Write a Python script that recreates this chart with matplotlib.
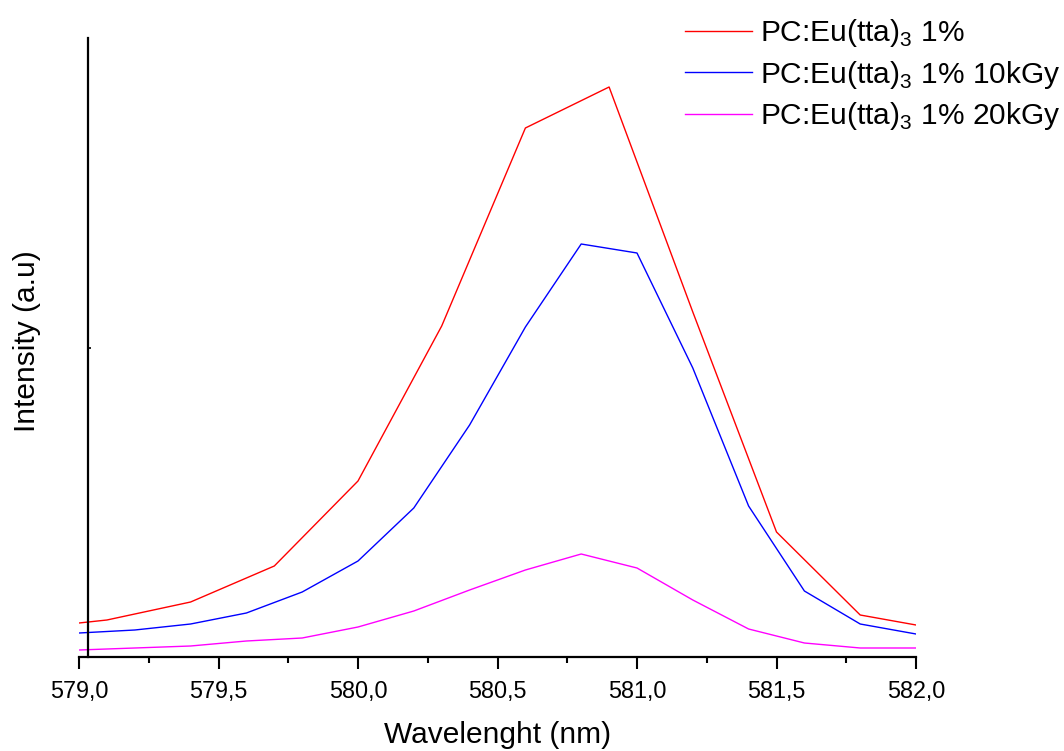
import numpy as np
import matplotlib
matplotlib.use("Agg")
import matplotlib.pyplot as plt
from matplotlib.ticker import MultipleLocator, FuncFormatter

plt.rcParams['font.family'] = ['Liberation Sans', 'DejaVu Sans']
plt.rcParams['mathtext.fontset'] = 'custom'
plt.rcParams['mathtext.rm'] = 'Liberation Sans'

# emission spectra, arbitrary intensity units
wl_red = [579.0, 579.1, 579.4, 579.7, 580.0, 580.3, 580.6, 580.9, 581.2, 581.5, 581.8, 582.0]
int_red = [34, 37, 55, 91, 176, 331, 529, 570, 345, 125, 42, 32]

wl_blue = [579.0, 579.2, 579.4, 579.6, 579.8, 580.0, 580.2, 580.4, 580.6, 580.8,
           581.0, 581.2, 581.4, 581.6, 581.8, 582.0]
int_blue = [24, 27, 33, 44, 65, 96, 149, 232, 330, 413, 404, 289, 151, 66, 33, 23]

wl_mag = [579.0, 579.4, 579.6, 579.8, 580.0, 580.2, 580.4, 580.6, 580.8,
          581.0, 581.2, 581.4, 581.6, 581.8, 582.0]
int_mag = [7, 11, 16, 19, 30, 46, 67, 87, 103, 89, 57, 28, 14, 9, 9]

labels = [r'PC:Eu(tta)$_3$ 1%',
          r'PC:Eu(tta)$_3$ 1% 10kGy',
          r'PC:Eu(tta)$_3$ 1% 20kGy']

W, H = 1064, 751
fig = plt.figure(figsize=(W / 100, H / 100), dpi=100)
ax = fig.add_axes([79 / W, (H - 657) / H, (916 - 79) / W, (657 - 38) / H])

ax.plot(wl_red, int_red, color='#ff0000', lw=1.0, label=labels[0])
ax.plot(wl_blue, int_blue, color='#0000ff', lw=1.0, label=labels[1])
ax.plot(wl_mag, int_mag, color='#ff00ff', lw=1.0, label=labels[2])

ax.set_xlim(579.0, 582.0)
ax.set_ylim(0, 619)

for s in ['top', 'right']:
    ax.spines[s].set_visible(False)
ax.spines['left'].set_position(('data', 579.032))
ax.spines['left'].set_linewidth(1.6)
ax.spines['bottom'].set_linewidth(1.6)

ax.xaxis.set_major_locator(MultipleLocator(0.5))
ax.xaxis.set_minor_locator(MultipleLocator(0.25))
ax.xaxis.set_major_formatter(FuncFormatter(lambda v, p: f"{v:.1f}".replace('.', ',')))
ax.tick_params(axis='x', which='major', direction='out', length=8.5, width=1.5,
               labelsize=16.8, pad=8)
ax.tick_params(axis='x', which='minor', direction='out', length=4.3, width=1.5)

ax.set_yticks([309.5])
ax.tick_params(axis='y', which='major', direction='in', length=2, width=1.2, labelleft=False)

ax.set_xlabel('Wavelenght (nm)', fontsize=21.5, labelpad=13)
ax.set_ylabel('Intensity (a.u)', fontsize=21.5)
ax.yaxis.set_label_coords(-0.045, 0.51)

fig.legend(loc='upper left', bbox_to_anchor=(685 / W, 1 - 17 / H),
           frameon=False, fontsize=21.5, handlelength=2.25, handletextpad=0.27,
           labelspacing=0.32, borderpad=0, borderaxespad=0)

fig.savefig('out.png', dpi=100)
